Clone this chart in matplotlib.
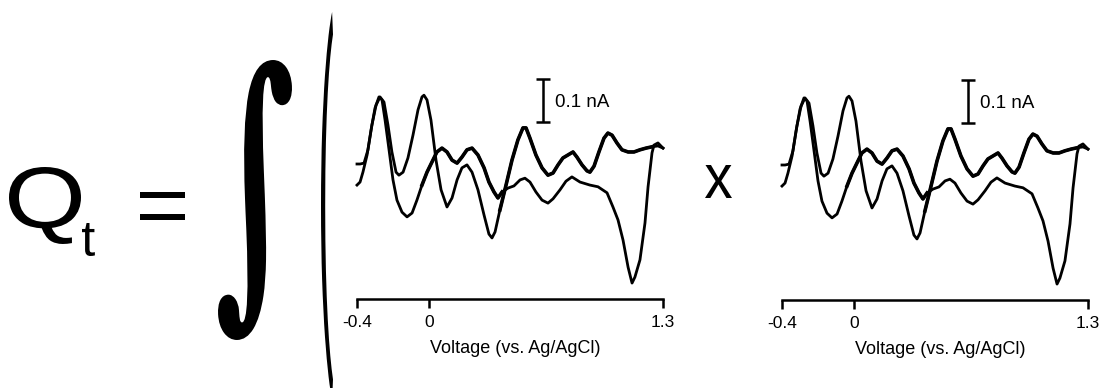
import matplotlib
matplotlib.use('Agg')
import matplotlib.pyplot as plt
from matplotlib.textpath import TextPath
from matplotlib.font_manager import FontProperties
from matplotlib.transforms import Affine2D
from matplotlib.patheffects import AbstractPathEffect

# cyclic voltammogram (V vs Ag/AgCl, nA)
fwd_v = [-0.400, -0.383, -0.361, -0.339, -0.317, -0.294, -0.272, -0.250, -0.228, -0.206,
         -0.183, -0.167, -0.144, -0.117, -0.089, -0.061, -0.039, -0.028, -0.011, 0.011,
         0.039, 0.067, 0.100, 0.128, 0.156, 0.183, 0.211, 0.239, 0.272, 0.306,
         0.333, 0.350, 0.367, 0.394, 0.428, 0.461, 0.494, 0.522, 0.539, 0.561,
         0.594, 0.628, 0.661, 0.689, 0.717, 0.744, 0.772, 0.800, 0.822, 0.850,
         0.878, 0.894, 0.917, 0.944, 0.972, 0.994, 1.017, 1.044, 1.072, 1.106,
         1.139, 1.172, 1.206, 1.239, 1.272, 1.300]
fwd_i = [0.000, 0.000, 0.002, 0.033, 0.091, 0.137, 0.156, 0.144, 0.091, 0.028,
         -0.019, -0.026, -0.019, 0.014, 0.067, 0.126, 0.156, 0.160, 0.149, 0.102,
         0.009, -0.060, -0.100, -0.079, -0.037, -0.009, -0.002, -0.019, -0.060, -0.119,
         -0.163, -0.172, -0.158, -0.107, -0.049, 0.009, 0.056, 0.084, 0.084, 0.060,
         0.021, -0.009, -0.026, -0.021, -0.002, 0.014, 0.021, 0.028, 0.016, -0.002,
         -0.016, -0.019, -0.005, 0.028, 0.060, 0.072, 0.067, 0.049, 0.033, 0.028,
         0.028, 0.033, 0.037, 0.040, 0.042, 0.037]

rev_v = [1.300, 1.272, 1.250, 1.239, 1.217, 1.200, 1.172, 1.144, 1.128, 1.106,
         1.078, 1.050, 1.022, 0.989, 0.939, 0.894, 0.839, 0.794, 0.761, 0.728,
         0.689, 0.661, 0.628, 0.594, 0.561, 0.533, 0.506, 0.472, 0.439, 0.406,
         0.383, 0.361, 0.333, 0.306, 0.272, 0.239, 0.211, 0.183, 0.156, 0.128,
         0.100, 0.072, 0.044, 0.017, -0.011, -0.039, -0.067, -0.094, -0.122, -0.150,
         -0.178, -0.200, -0.222, -0.244, -0.261, -0.278, -0.300, -0.322, -0.344, -0.367,
         -0.383, -0.400]
rev_i = [0.037, 0.049, 0.044, 0.026, -0.053, -0.137, -0.223, -0.263, -0.277, -0.240,
         -0.177, -0.130, -0.100, -0.067, -0.053, -0.049, -0.042, -0.030, -0.040, -0.060,
         -0.081, -0.091, -0.084, -0.065, -0.042, -0.033, -0.037, -0.051, -0.056, -0.065,
         -0.079, -0.065, -0.042, -0.009, 0.021, 0.037, 0.033, 0.016, 0.002, 0.009,
         0.028, 0.037, 0.028, 0.005, -0.019, -0.049, -0.084, -0.114, -0.123, -0.112,
         -0.084, -0.037, 0.033, 0.102, 0.149, 0.156, 0.130, 0.079, 0.021, -0.019,
         -0.042, -0.049]

# index ranges where the recorded trace is noisy (drawn a bit heavier)
fwd_noisy = (33, 64)
rev_noisy = (29, 46)

tick_vals = [-0.4, 0, 1.3]
tick_labels = ['-0.4', '0', '1.3']
scale_v = 0.633      # where the scale bar sits
scale_low = 0.098
scale_na = 0.1

DPI = 100
W, H = 1099, 388
fig = plt.figure(figsize=(W / DPI, H / DPI), dpi=DPI)

# background axes in pixel coords (y down) for the equation
bg = fig.add_axes([0, 0, 1, 1])
bg.set_xlim(0, W)
bg.set_ylim(H, 0)
bg.axis('off')

sans = FontProperties(family='Liberation Sans')
serif_b = FontProperties(family='DejaVu Serif', weight='bold')
paren_fp = FontProperties(family='Roboto')


class Stretch(AbstractPathEffect):
    # draws the glyphs through an extra affine (stretch / unslant)
    def __init__(self, tr):
        super().__init__()
        self.tr = tr

    def draw_path(self, renderer, gc, tpath, affine, rgbFace=None):
        renderer.draw_path(gc, tpath, self.tr + affine, rgbFace)


def place(s, fp, left, bottom, height, width=None, skew=0.0, by='height'):
    # real text, sized so its ink fills the given pixel box
    tp = TextPath((0, 0), s, size=100, prop=fp)
    e = Affine2D().skew_deg(skew, 0).transform_path(tp).get_extents()
    sx = sy = 1.0
    if by == 'width':
        p = width / e.width
        sy = height / (e.height * p)
    else:
        p = height / e.height
        if width is not None:
            sx = width / (e.width * p)
    tr = Affine2D().skew_deg(skew, 0).scale(sx, sy)
    e2 = tr.transform_path(tp).get_extents()
    f = fp.copy()
    f.set_size(p * 100 * 72 / DPI)
    bg.text(left - e2.x0 * p, bottom + e2.y0 * p, s, fontproperties=f, color='black',
            ha='left', va='baseline', path_effects=[Stretch(tr)])


place('Q', sans, 9, 244, 77, width=72)
place('t', sans, 82, 256, 33)
place('=', sans, 140, 220, 28, width=45)
place('\u222b', serif_b, 218, 340, 280, width=74, skew=-6, by='width')
place('(', paren_fp, 321, 400, 388, width=12, by='width')
place('x', sans, 705, 198, 33, width=27)


def cv_panel(left_px, top_px):
    ax = fig.add_axes([left_px / W, 1 - (top_px + 239) / H, 350 / W, 239 / H])
    ax.patch.set_alpha(0)
    ax.plot(fwd_v, fwd_i, color='black', lw=2, solid_joinstyle='round')
    ax.plot(rev_v, rev_i, color='black', lw=2, solid_joinstyle='round')
    a, b = fwd_noisy
    ax.plot(fwd_v[a:b], fwd_i[a:b], color='black', lw=2.6, solid_joinstyle='round')
    a, b = rev_noisy
    ax.plot(rev_v[a:b], rev_i[a:b], color='black', lw=2.6, solid_joinstyle='round')
    ax.errorbar([scale_v], [scale_low + scale_na / 2], yerr=scale_na / 2, color='black',
                lw=1.8, capsize=5, capthick=1.8)
    ax.text(scale_v + 0.067, scale_low + scale_na * 0.44, '0.1 nA', fontsize=13.5,
            family='Liberation Sans', ha='left', va='center')
    ax.set_xlim(-0.4944, 1.45)
    ax.set_ylim(-0.314, 0.2419)
    for sp in ['top', 'left', 'right']:
        ax.spines[sp].set_visible(False)
    ax.spines['bottom'].set_bounds(-0.4, 1.3)
    ax.spines['bottom'].set_linewidth(1.8)
    ax.set_yticks([])
    ax.set_xticks(tick_vals)
    ax.set_xticklabels(tick_labels, family='Liberation Sans', fontsize=12.5)
    ax.tick_params(axis='x', direction='out', length=6.5, width=1.8, pad=5)
    ax.set_xlabel('Voltage (vs. Ag/AgCl)', family='Liberation Sans', fontsize=13, labelpad=7.5)
    return ax


cv_panel(340, 60)
cv_panel(765, 61)

fig.savefig('out.png', dpi=DPI)
